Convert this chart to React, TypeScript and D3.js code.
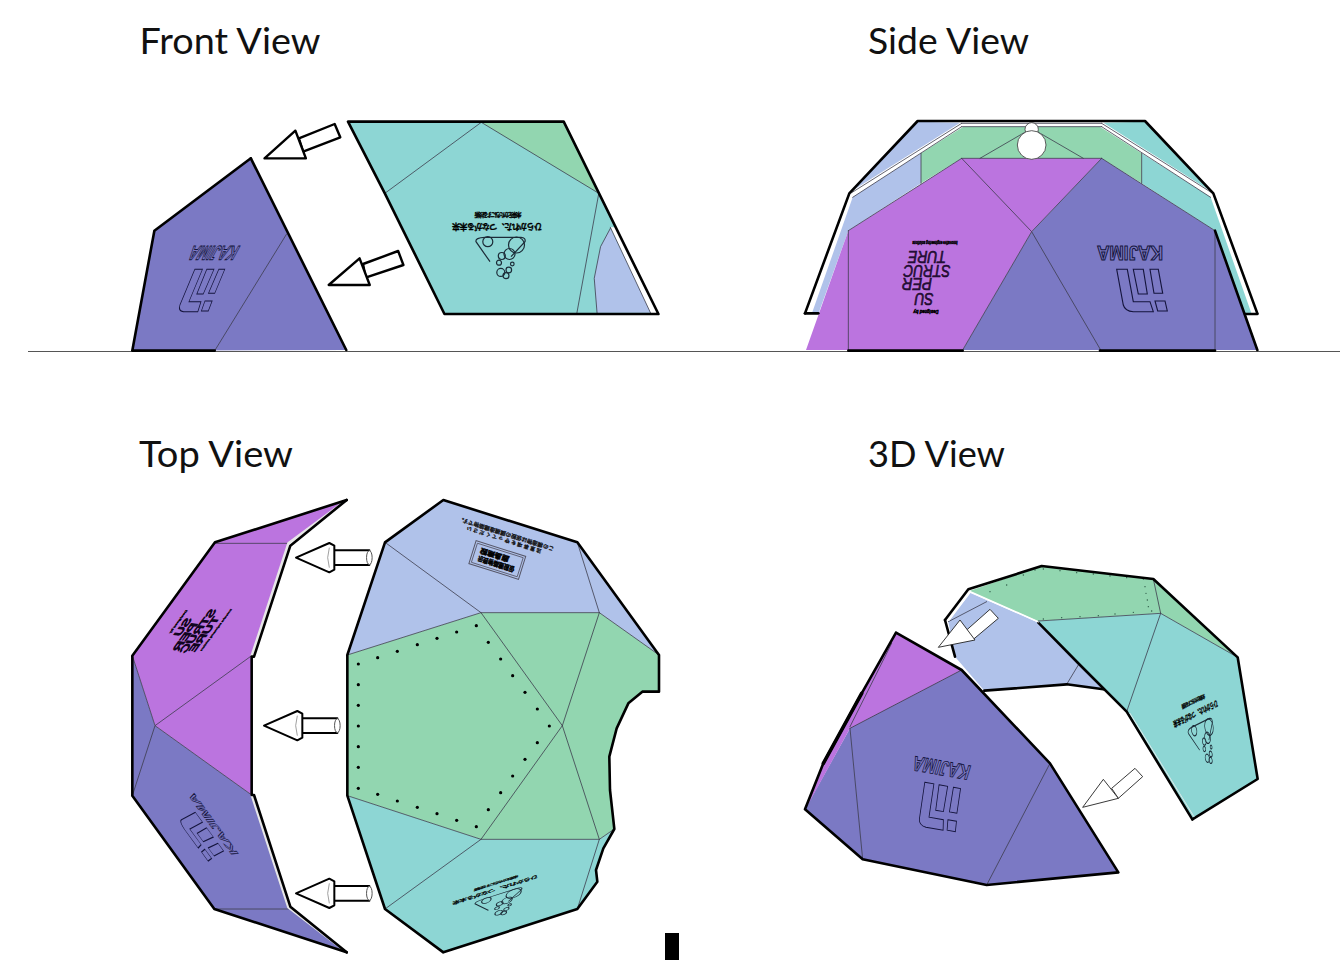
import React from "react";
import * as d3 from "d3";

type P = [number, number];
type V = { x: d3.ScaleLinear<number, number>; y: d3.ScaleLinear<number, number> };
const view = (dx: number[], rx: number[], dy: number[], ry: number[]): V => ({
  x: d3.scaleLinear().domain(dx).range(rx),
  y: d3.scaleLinear().domain(dy).range(ry),
});

const INDIGO = "#7b79c4", PURPLE = "#bb74df", TEAL = "#8dd6d4", GREEN = "#92d6b0", BLUE = "#b0c2ea";
const THICK = 2.6;
const titles: [string, number, number, number][] = [
  ["Front View", 139.5, 54, 181], ["Side View", 868, 54, 161], ["Top View", 139, 467, 154], ["3D View", 868, 467, 137],
];

// Source grids for each panel
const V1 = view([0, 1568], [120, 670], [0, 750], [110, 360]);
const V2 = view([0, 1440], [790, 1270], [0, 750], [110, 360]);
const V3 = view([0, 810], [120, 390], [0, 1410], [490, 960]);
const V4 = view([0, 1050], [340, 690], [0, 1410], [490, 960]);
const V5 = view([0, 1440], [790, 1270], [0, 1050], [550, 900]);

// FRONT
const frontLeft: P[] = [[373, 145], [98, 362], [35, 722], [645, 720]];
const frontLeftLine: P[] = [[475, 372], [270, 722]];
const frontTeal: P[] = [[650, 35], [1265, 35], [1535, 612], [925, 612], [755, 250]];
const frontGreen: P[] = [[1030, 37], [1265, 37], [1365, 250]];
const frontBlue: P[] = [[1398, 355], [1370, 410], [1352, 505], [1360, 608], [1514, 608]];
const frontSliver: P[] = [[1398, 352], [1420, 352], [1535, 612], [1514, 612]];
const frontThin: P[][] = [[[1030, 37], [755, 250]], [[1030, 37], [1365, 250]], [[1365, 250], [1302, 612]], [[1398, 355], [1370, 410], [1352, 505], [1360, 608]], [[1398, 352], [1514, 612]]];
const frontArrows: P[][] = [
  [[510, 85], [612, 42], [628, 82], [522, 125]], [[500, 62], [412, 145], [530, 145]],
  [[693, 462], [793, 423], [808, 465], [700, 503]], [[683, 445], [595, 525], [712, 525]],
];

// SIDE
const sideOuter: P[] = [[383, 33], [1065, 33], [1270, 250], [1402, 610], [45, 610], [178, 250]];
const sideBlueA: P[] = [[383, 35], [510, 38], [182, 245]];
const sideTealA: P[] = [[940, 38], [1065, 35], [1265, 245]];
const sideBlueB: P[] = [[188, 262], [393, 130], [393, 220], [175, 362], [85, 612], [65, 612]];
const sideTealB: P[] = [[1055, 130], [1262, 262], [1385, 612], [1365, 612], [1275, 362], [1055, 220]];
const sideGreen: P[] = [[393, 130], [520, 50], [930, 50], [1055, 130], [1055, 220], [935, 145], [515, 145], [393, 220]];
const sidePurple: P[] = [[515, 145], [935, 145], [725, 365], [518, 720], [48, 720], [175, 362]];
const sideIndigo: P[] = [[935, 145], [1275, 362], [1402, 720], [518, 720], [725, 365]];
const sideThin: P[][] = [
  [[393, 130], [393, 220]], [[1055, 130], [1055, 220]], [[725, 55], [570, 145]], [[725, 55], [880, 145]],
  [[515, 145], [725, 365], [932, 720]], [[935, 145], [725, 365], [518, 720]], [[175, 362], [175, 720]], [[1275, 362], [1275, 720]],
  [[515, 145], [175, 362]], [[935, 145], [1275, 362]], [[515, 145], [935, 145]], [[515, 40], [935, 40]], [[515, 50], [935, 50]],
  [[188, 262], [515, 50]], [[1262, 262], [935, 50]], [[515, 40], [185, 248]], [[935, 40], [1265, 248]],
];
const sideThick: P[][] = [
  [[45, 610], [178, 250], [383, 33], [1065, 33], [1270, 250], [1402, 610]],
  [[45, 610], [85, 610]], [[1365, 612], [1402, 612]], [[175, 722], [518, 722]], [[930, 722], [1275, 722]], [[1275, 362], [1402, 720]],
];
const sideCircles: [number, number, number][] = [[725, 58, 20], [725, 105, 43]];

// TOP LEFT
const topPurple: P[] = [[680, 30], [285, 157], [37, 497], [105, 707], [395, 915], [395, 497], [505, 160]];
const topIndigo: P[] = [[37, 497], [105, 707], [395, 915], [505, 1250], [680, 1387], [283, 1257], [37, 917]];
const topLeftThin: P[][] = [[[285, 160], [505, 160]], [[283, 1257], [505, 1257]], [[395, 497], [105, 707], [395, 915]], [[37, 497], [105, 707], [37, 917]]];
const topLeftThick: P[][] = [
  [[680, 30], [285, 157], [37, 497], [37, 917], [283, 1257], [680, 1387]],
  [[680, 30], [511, 167], [402, 500], [395, 500], [395, 915], [402, 915], [511, 1250], [680, 1387]],
];
const topLeftSliver: P[][] = [[[680, 30], [505, 160], [395, 497]], [[395, 915], [505, 1252], [680, 1387]]];
const topArrowTips: P[] = [[528, 203], [432, 707], [528, 1210]];

// TOP RIGHT
const shellNotch: P[] = [[957, 495], [957, 605], [907, 605], [865, 640], [830, 715], [808, 800], [810, 900], [823, 1017], [790, 1075], [768, 1140], [772, 1175], [712, 1257]];
const shellOuter: P[] = [[310, 30], [712, 157], ...shellNotch, [310, 1387], [135, 1257], [22, 917], [22, 495], [135, 157]];
const topBlue: P[] = [[310, 30], [712, 157], [957, 495], [778, 368], [423, 368], [22, 495], [135, 157]];
const topGreen: P[] = [[22, 495], [423, 368], [778, 368], [957, 495], [957, 605], [907, 605], [865, 640], [830, 715], [808, 800], [810, 900], [823, 1017], [778, 1048], [423, 1048], [22, 917]];
const topTeal: P[] = [[22, 917], [423, 1048], [778, 1048], [823, 1017], [790, 1075], [768, 1140], [772, 1175], [712, 1257], [310, 1387], [135, 1257]];
const topRightThin: P[][] = [
  [[135, 157], [423, 368]], [[423, 368], [667, 707], [423, 1048]], [[667, 707], [778, 1048]], [[778, 368], [667, 707]], [[712, 157], [778, 368]],
  [[135, 1257], [423, 1048]], [[778, 1048], [712, 1257]], [[22, 495], [423, 368], [778, 368], [957, 495]], [[22, 917], [423, 1048], [778, 1048], [823, 1017]],
];
const rivets: P[] = [
  [55, 522], [55, 584], [55, 646], [55, 708], [55, 770], [55, 832], [55, 895], [113, 503], [172, 484], [232, 464], [291, 445], [350, 426], [409, 407],
  [445, 457], [482, 507], [518, 557], [555, 607], [592, 657], [628, 708], [592, 758], [555, 808], [518, 858], [482, 908], [445, 959], [409, 1010],
  [350, 991], [291, 971], [232, 952], [172, 933], [113, 913],
];

// 3D
const d3Green: P[] = [[540, 122], [755, 48], [1090, 87], [1343, 322], [1112, 190], [745, 213]];
const d3Teal: P[] = [[745, 213], [1112, 190], [1343, 322], [1403, 687], [1207, 808], [1010, 485], [940, 418], [870, 345]];
const d3Blue: P[] = [[540, 128], [745, 218], [870, 345], [940, 418], [830, 403], [583, 422], [495, 320], [475, 215]];
const d3Indigo: P[] = [[515, 360], [780, 640], [985, 967], [590, 1005], [218, 928], [45, 778], [180, 535]];
const d3Purple: P[] = [[318, 248], [515, 360], [180, 535], [48, 775], [100, 640], [215, 430]];
const d3Thin: P[][] = [
  [[475, 215], [590, 155]], [[830, 403], [865, 345]], [[1010, 485], [1112, 190]], [[1090, 87], [1112, 190]], [[745, 213], [1112, 190], [1343, 322]],
  [[180, 535], [218, 928]], [[780, 640], [590, 1005]], [[515, 360], [180, 535]], [[305, 280], [180, 530]],
];
const d3Thick: P[][] = [
  [[465, 210], [535, 118], [755, 48], [1090, 87], [1343, 322], [1403, 687], [1207, 808]],
  [[745, 218], [870, 345], [1010, 485], [1207, 808]], [[583, 422], [830, 403], [940, 418]], [[465, 210], [495, 320]],
  [[318, 248], [515, 360], [780, 640], [985, 967], [590, 1005], [218, 928], [45, 778], [100, 640], [215, 430], [318, 248]],
];
const d3HeavyEdge: P[] = [[215, 430], [100, 640]];
const d3Sliver: P[][] = [[[540, 126], [745, 216]], [[478, 210], [540, 128]]];
const d3EdgeGlint: P[] = [[1020, 490], [1212, 800]];
const d3Rivets: P[] = [
  [760, 57], [810, 62], [860, 68], [910, 72], [960, 78], [1010, 83], [1060, 87], [1065, 110], [1068, 130], [1072, 150], [1075, 170], [1085, 183],
  [1030, 187], [975, 192], [925, 197], [870, 200], [815, 203], [760, 207], [600, 125], [650, 105], [700, 75], [735, 60],
];
const d3Arrows: P[][] = [
  [[530, 240], [600, 178], [625, 205], [550, 268]], [[445, 292], [510, 210], [555, 270]],
  [[965, 715], [1035, 655], [1058, 680], [985, 745]], [[878, 772], [940, 688], [985, 745]],
];

// Marks printed on the panels
const mirroredCaption = ["ひらかれた、つながる未来", "未来をかたちにする技術"];
const superWords: [string, number, number, number][] = [["SU", -3, 21.5, 19], ["PER", -10, 6.5, 30], ["STRUC", 0, -6.5, 47], ["TURE", 0, -20.5, 38]];
const brand = "KAJIMA";
const logoPaths = [
  "M-13.3,-0.7 L-2.7,-0.7 L3.3,31.7 L20,31.7 L23.3,41.7 L3.3,41.7 Q-5,41 -6.7,35 Z",
  "M3.3,-0.7 L13.3,-0.7 L17.3,24 L8.3,24 Z",
  "M20,-0.7 L28.3,-0.7 L32.7,23.3 L24,23.3 Z",
  "M25,31 L35,31 L37.3,41 L27.7,41 Z",
];
const pebbles: [number, number, number][] = [[-11.2, -15, 5], [17.5, -11.7, 8], [10.5, -2.7, 5.5], [2.8, -0.7, 3.5], [0, 6, 2.5], [13.3, 7.3, 1.8], [9.8, 13.3, 2.8], [1.8, 15.7, 4], [7, 19, 3]];
const pebbleFrame = "M-9,5 L-23,-15 Q-24,-19 -14,-19.3 L22,-19.3 Q27,-19 26,-15 L12,0";

const ln = (pts: P[], v: V, close = false) =>
  d3.line<P>().x((d) => v.x(d[0])).y((d) => v.y(d[1]))(pts) + (close ? "Z" : "");

const Poly = ({ pts, v, fill = "none" }: { pts: P[]; v: V; fill?: string }) => <path d={ln(pts, v, true)} fill={fill} />;
const Lines = ({ sets, v, w = 0.8, c = "#3c3c4c" }: { sets: P[][]; v: V; w?: number; c?: string }) => (
  <g fill="none" stroke={c} strokeWidth={w} strokeLinejoin="round" strokeLinecap="round">
    {sets.map((s, i) => <path key={i} d={ln(s, v)} />)}
  </g>
);

const Brand = ({ m, sw = 0.9 }: { m: string; sw?: number }) => (
  <g transform={`matrix(${m})`} fill="none" stroke="#14143c" strokeWidth={sw}>
    <text transform="translate(0,-17) rotate(180)" textAnchor="middle" dy="7" fontFamily="Liberation Sans" fontWeight="700" fontSize="20" textLength={66} lengthAdjust="spacingAndGlyphs">{brand}</text>
    {logoPaths.map((d, i) => <path key={i} d={d} />)}
  </g>
);

const Emblem = ({ m }: { m: string }) => (
  <g transform={`matrix(${m})`}>
    <g fill="none" stroke="#1c2c38" strokeWidth="1.2">
      <path d={pebbleFrame} />
      {pebbles.map((p, i) => <circle key={i} cx={p[0]} cy={p[1]} r={p[2]} />)}
    </g>
    <g fill="#000" stroke="#000" strokeWidth="0.3" fontFamily="Noto Sans CJK JP" fontWeight="700" textAnchor="middle">
      <text transform="translate(-2,-30) rotate(180)" dy="2.5" fontSize="8" textLength={90}>{mirroredCaption[0]}</text>
      <text transform="translate(-1,-41.7) rotate(180)" dy="2" fontSize="5.5" textLength={47}>{mirroredCaption[1]}</text>
    </g>
  </g>
);

const Super = ({ m, sw = 0.6 }: { m: string; sw?: number }) => (
  <g transform={`matrix(${m})`} fontFamily="Liberation Sans" fontStyle="italic" textAnchor="middle">
    {superWords.map(([w, x, y, l]) => (
      <text key={w} transform={`translate(${x},${y}) rotate(180)`} dy="6" fontSize="16" textLength={l} lengthAdjust="spacingAndGlyphs" fill="#2a1040" stroke="#120520" strokeWidth={sw}>{w}</text>
    ))}
    <text transform="translate(8,-34.5) rotate(180)" dy="1.6" fontSize="4.5" fontWeight="700" textLength={45} lengthAdjust="spacingAndGlyphs" fill="#000" stroke="#000" strokeWidth="0.5">Innovative engineering solutions</text>
    <text transform="translate(-1,34.5) rotate(180)" dy="1.6" fontSize="4.5" fontWeight="700" textLength={25} lengthAdjust="spacingAndGlyphs" fill="#000" stroke="#000" strokeWidth="0.5">Designed by</text>
  </g>
);

const TopArrow = ({ tip, v }: { tip: P; v: V }) => {
  const [tx, ty] = tip;
  const cyl: P[] = [[tx + 105, ty - 22], [tx + 220, ty - 22], [tx + 220, ty + 22], [tx + 105, ty + 22]];
  const cone: P[] = [[tx, ty], [tx + 100, ty - 44], [tx + 115, ty - 36], [tx + 115, ty + 36], [tx + 100, ty + 44]];
  return (
    <g stroke="#000" strokeWidth="2" fill="#fff" strokeLinejoin="round">
      <path d={ln(cyl, v, true)} />
      <ellipse cx={v.x(tx + 220)} cy={v.y(ty)} rx={2.8} ry={7} stroke="#555" strokeWidth="1" />
      <path d={ln(cone, v, true)} />
      <path d={ln([[tx + 100, ty - 30], [tx + 95, ty], [tx + 100, ty + 30]], v)} fill="none" stroke="#888" strokeWidth="0.8" />
    </g>
  );
};

export default function App() {
  return (
    <svg width={1340} height={960} viewBox="0 0 1340 960" style={{ position: "fixed", left: 0, top: 0, display: "block", background: "#fff" }}>
      {titles.map(([t, x, y, l]) => (
        <text key={t} x={x} y={y} fontFamily="Lato, 'Open Sans'" fontSize="37" fill="#111" textLength={l} lengthAdjust="spacingAndGlyphs">{t}</text>
      ))}
      <line x1={28} x2={1340} y1={351.5} y2={351.5} stroke="#555" strokeWidth="1" />
      <rect x={665} y={933} width={14} height={27} fill="#000" />

      {/* Front view */}
      <Poly pts={frontLeft} v={V1} fill={INDIGO} />
      <Lines sets={[frontLeftLine]} v={V1} />
      <Lines sets={[[...frontLeft.slice(0, 3), [270, 722]], [frontLeft[3], frontLeft[0]]]} v={V1} w={THICK} c="#000" />
      <Brand m="0.72,0,-0.55,1,204,270" sw={1} />
      <Poly pts={frontTeal} v={V1} fill={TEAL} />
      <Poly pts={frontGreen} v={V1} fill={GREEN} />
      <Poly pts={frontBlue} v={V1} fill={BLUE} />
      <Poly pts={frontSliver} v={V1} fill="#fff" />
      <Lines sets={frontThin} v={V1} />
      <Lines sets={[[[1302, 612], [925, 612], [755, 250], [650, 35], [1265, 35], [1535, 612], [1302, 612]]]} v={V1} w={THICK} c="#000" />
      <Emblem m="1,0,0,1,499,256.7" />
      <g fill="#fff" stroke="#000" strokeWidth="2.4" strokeLinejoin="round">
        {frontArrows.map((a, i) => <path key={i} d={ln(a, V1, true)} />)}
      </g>

      {/* Side view */}
      <Poly pts={sideOuter} v={V2} fill="#fff" />
      <Poly pts={sideBlueA} v={V2} fill={BLUE} />
      <Poly pts={sideTealA} v={V2} fill={TEAL} />
      <Poly pts={sideBlueB} v={V2} fill={BLUE} />
      <Poly pts={sideTealB} v={V2} fill={TEAL} />
      <Poly pts={sideGreen} v={V2} fill={GREEN} />
      <Poly pts={sidePurple} v={V2} fill={PURPLE} />
      <Poly pts={sideIndigo} v={V2} fill={INDIGO} />
      <Lines sets={sideThin} v={V2} />
      <g fill="#fff" stroke="#333" strokeWidth="0.8">
        {sideCircles.map((c, i) => <circle key={i} cx={V2.x(c[0])} cy={V2.y(c[1])} r={c[2] / 3} />)}
      </g>
      <Lines sets={sideThick} v={V2} w={THICK} c="#000" />
      <Brand m="1,0,0,1,1130,270" sw={1.1} />
      <Super m="1,0,0,1,927,277.5" />

      {/* Top view, left */}
      <Poly pts={topPurple} v={V3} fill={PURPLE} />
      <Poly pts={topIndigo} v={V3} fill={INDIGO} />
      <Lines sets={topLeftThin} v={V3} />
      <Lines sets={topLeftSliver} v={V3} w={2.4} c="#e8e8e8" />
      <Lines sets={topLeftThick} v={V3} w={THICK} c="#000" />
      <Brand m="0.68,0.93,-0.52,0.04,204,824.7" sw={1} />
      <Super m="0.68,-0.93,-0.46,-0.24,194.7,629" sw={1.6} />
      {topArrowTips.map((t, i) => <TopArrow key={i} tip={t} v={V3} />)}

      {/* Top view, right */}
      <Poly pts={topBlue} v={V4} fill={BLUE} />
      <Poly pts={topGreen} v={V4} fill={GREEN} />
      <Poly pts={topTeal} v={V4} fill={TEAL} />
      <Lines sets={topRightThin} v={V4} />
      <Lines sets={[[...shellOuter, shellOuter[0]]]} v={V4} w={THICK} c="#000" />
      <g fill="#000">
        {rivets.map((p, i) => <circle key={i} cx={V4.x(p[0])} cy={V4.y(p[1])} r={1.6} />)}
      </g>
      <g transform="translate(497.3,560) rotate(17.5)">
        <rect x={-26} y={-12} width={52} height={24} fill="none" stroke="#556" strokeWidth="1" />
        <rect x={-24} y={-10} width={48} height={20} fill="none" stroke="#556" strokeWidth="0.8" />
        <g fontFamily="Noto Sans CJK JP" fontWeight="700" fontSize="7" textAnchor="middle" fill="#000" stroke="#000" strokeWidth="0.5">
          <text transform="translate(0,4) rotate(180)" dy="2.5" textLength={38} lengthAdjust="spacingAndGlyphs">仮設建築物表示</text>
          <text transform="translate(-4,-4) rotate(180)" dy="2.5" textLength={30} lengthAdjust="spacingAndGlyphs">鹿島建設</text>
        </g>
      </g>
      <g fontFamily="Noto Sans CJK JP" fontWeight="700" textAnchor="middle" fill="#111" stroke="#111" strokeWidth="0.25">
        <text transform="translate(506,534) rotate(197.5)" dy="2" fontSize="5.5" textLength={100}>この構造物は仮設の膜構造建築物です。</text>
        <text transform="translate(504,540) rotate(197.5)" dy="2" fontSize="5" textLength={78}>注 意 事 項 を 守 っ て く だ さ い</text>
      </g>
      <Emblem m="0.95,-0.3,0,0.53,497,905" />

      {/* 3D view */}
      <Poly pts={d3Blue} v={V5} fill={BLUE} />
      <Poly pts={d3Green} v={V5} fill={GREEN} />
      <Poly pts={d3Teal} v={V5} fill={TEAL} />
      <Lines sets={d3Thin} v={V5} />
      <g fill="#2f5a48">
        {d3Rivets.map((p, i) => <circle key={i} cx={V5.x(p[0])} cy={V5.y(p[1])} r={0.7} />)}
      </g>
      <Lines sets={d3Thick.slice(0, 3)} v={V5} w={THICK} c="#000" />
      <Lines sets={d3Sliver} v={V5} w={1.2} c="#fff" />
      <Lines sets={[d3EdgeGlint]} v={V5} w={1} c="#dfe8e8" />
      <Emblem m="0.49,-0.24,0.22,1,1203,743" />
      <Poly pts={d3Indigo} v={V5} fill={INDIGO} />
      <Poly pts={d3Purple} v={V5} fill={PURPLE} />
      <Lines sets={d3Thin.slice(5)} v={V5} />
      <Lines sets={d3Thick.slice(3)} v={V5} w={THICK} c="#000" />
      <Lines sets={[d3HeavyEdge]} v={V5} w={3.6} c="#000" />
      <Brand m="0.86,0.15,-0.31,1,936,785" />
      <g fill="#fff" stroke="#222" strokeWidth="0.9" strokeLinejoin="round">
        {d3Arrows.map((a, i) => <path key={i} d={ln(a, V5, true)} />)}
      </g>
    </svg>
  );
}
